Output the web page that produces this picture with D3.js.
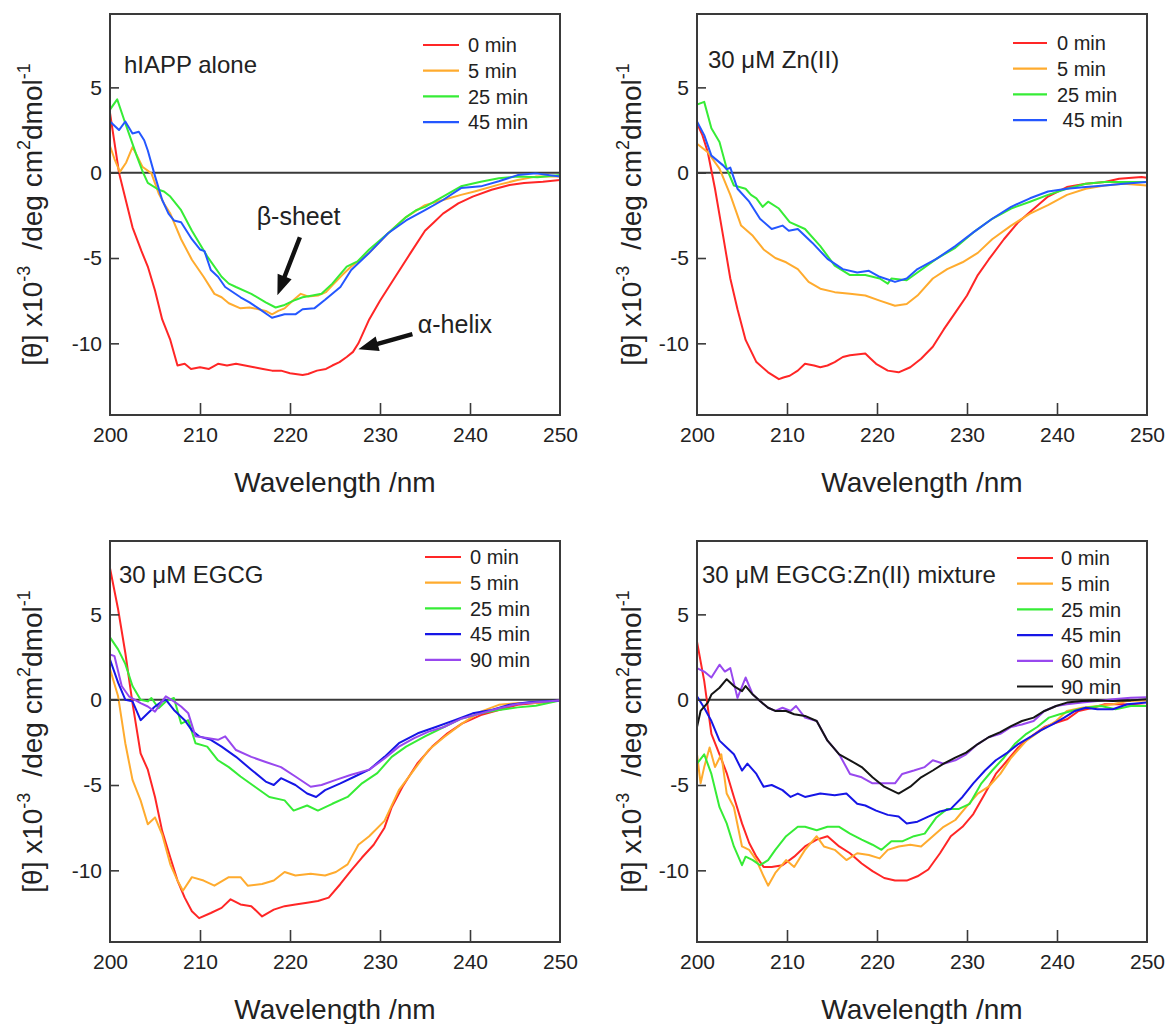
<!DOCTYPE html>
<html>
<head>
<meta charset="utf-8">
<script src="https://cdn.jsdelivr.net/npm/d3@7"></script>
<style>
  html, body { margin: 0; padding: 0; background: #fff; }
  svg { display: block; }
  text { font-family: Arial, "Liberation Sans", sans-serif; fill: #222; }
</style>
</head>
<body>
<svg id="chart" width="1167" height="1024"></svg>
<script>
// ---------- DATA ----------
const xTicks = [200, 210, 220, 230, 240, 250];
const yTicks = [5, 0, -5, -10];
const xDomain = [200, 250];
const yDomain = [-14.2, 9.3];

const panelTitles = ["hIAPP alone", "30 \u03bcM Zn(II)", "30 \u03bcM EGCG", "30 \u03bcM EGCG:Zn(II) mixture"];
const legend1 = ["0 min", "5 min", "25 min", "45 min"];
const legend2 = ["0 min", "5 min", "25 min", " 45 min"];
const legend3 = ["0 min", "5 min", "25 min", "45 min", "90 min"];
const legend4 = ["0 min", "5 min", "25 min", "45 min", "60 min", "90 min"];

// Panel 1: hIAPP alone
const p1_0 = [[200,3.5],[201,0],[202.5,-3.2],[203.5,-4.6],[204.2,-5.5],[205,-6.9],[205.8,-8.6],[206.7,-9.8],[207.5,-11.3],[208.3,-11.2],[209,-11.5],[210,-11.4],[211,-11.5],[212,-11.2],[213,-11.3],[214,-11.2],[215,-11.3],[216,-11.4],[217,-11.5],[218,-11.6],[219,-11.6],[220,-11.75],[221.4,-11.85],[222,-11.8],[223,-11.6],[224,-11.5],[224.7,-11.3],[225.5,-11.1],[226.3,-10.8],[227,-10.5],[227.6,-10.0],[228.8,-8.6],[230,-7.5],[231.7,-6.1],[233.4,-4.7],[235,-3.4],[236,-2.9],[237,-2.4],[238.7,-1.8],[240.3,-1.4],[242.4,-1.0],[244.4,-0.72],[246,-0.6],[248.1,-0.53],[250,-0.43]];
const p1_5 = [[200,1.56],[200.5,0.8],[201.1,0.05],[201.8,0.6],[202.5,1.5],[203,1.0],[203.6,0.35],[204.6,-0.04],[205.4,-1.2],[206.1,-1.9],[206.7,-2.4],[207.9,-3.9],[209.1,-5.1],[210.4,-6.1],[211.6,-7.1],[212.4,-7.3],[213.2,-7.65],[214.5,-7.95],[215.5,-7.9],[216.5,-8.0],[217.3,-8.1],[218,-8.3],[218.7,-8.1],[219.4,-7.95],[220.3,-7.5],[221.2,-7.1],[222,-7.25],[223.1,-7.2],[224,-7.0],[224.7,-6.6],[225.8,-6.0],[226.8,-5.5],[228.8,-4.7],[230.9,-3.55],[232.9,-2.6],[235,-1.9],[237,-1.6],[239,-1.3],[240.5,-1.1],[241.2,-1.0],[243.2,-0.7],[245.3,-0.43],[247.3,-0.23],[250,-0.23]];
const p1_25 = [[200,3.7],[200.8,4.3],[201.7,2.9],[202.3,2.0],[203,0.94],[203.6,0.1],[204.2,-0.6],[205.4,-1.0],[206,-1.1],[206.7,-1.4],[207.9,-2.2],[209.1,-3.4],[210.8,-4.9],[212.4,-6.1],[213.2,-6.5],[214,-6.7],[215.7,-7.1],[217.3,-7.6],[218.4,-7.9],[219.4,-7.75],[220.4,-7.5],[221.4,-7.3],[222.5,-7.2],[223.5,-7.1],[224.7,-6.5],[225.5,-6.0],[226.3,-5.5],[227.5,-5.2],[228.8,-4.5],[230.9,-3.55],[232.9,-2.6],[234,-2.2],[235,-2.0],[237,-1.4],[239,-0.8],[241.2,-0.53],[243.2,-0.33],[245.3,-0.23],[247.5,-0.27],[250,-0.14]];
const p1_45 = [[200,3.0],[201,2.5],[201.7,3.0],[202.5,2.3],[203.2,2.4],[203.8,1.9],[204.2,1.3],[205,-0.2],[205.8,-1.6],[206.5,-2.4],[207.1,-2.8],[207.9,-2.9],[209.1,-3.9],[210,-4.5],[210.5,-4.6],[211.2,-5.7],[212,-6.1],[212.8,-6.7],[214.5,-7.3],[215.5,-7.6],[216.5,-7.95],[218,-8.5],[219.4,-8.3],[220.6,-8.3],[221.4,-8.0],[222.7,-7.95],[223.9,-7.45],[225.6,-6.7],[226.8,-5.7],[228.8,-4.7],[230.9,-3.55],[232.9,-2.8],[235,-2.2],[237,-1.6],[239,-0.9],[241.2,-0.8],[243.2,-0.5],[245.3,-0.14],[247.3,-0.04],[250,-0.23]];

// Panel 2: 30 uM Zn(II)
const p2_0 = [[200,2.9],[200.6,2.2],[201.2,1.2],[202,-0.94],[202.9,-3.7],[203.7,-6.2],[204.5,-8.0],[205.4,-9.8],[206.6,-11.1],[207.9,-11.7],[209.1,-12.1],[209.6,-12.0],[210.3,-11.9],[211.2,-11.6],[212,-11.2],[213,-11.3],[213.7,-11.4],[214.5,-11.3],[215.3,-11.1],[216.2,-10.8],[217,-10.7],[218.7,-10.6],[219.3,-10.9],[219.9,-11.2],[221.2,-11.6],[222.4,-11.7],[223.7,-11.4],[224.9,-10.9],[226.2,-10.2],[227.4,-9.2],[228.7,-8.2],[230,-7.2],[231.2,-6.0],[232.4,-5.1],[234.1,-3.9],[235.7,-2.9],[237,-2.3],[239,-1.4],[241.1,-0.84],[243.2,-0.65],[245.3,-0.55],[246.9,-0.35],[249.4,-0.25],[250,-0.3]];
const p2_5 = [[200,1.7],[201.2,1.2],[202.5,0.24],[203.7,-1.3],[204.9,-3.1],[206.2,-3.7],[207.4,-4.5],[208.7,-5.0],[209.9,-5.25],[211.2,-5.65],[212.4,-6.4],[213.7,-6.8],[215.3,-7.0],[217,-7.1],[218.7,-7.2],[220.3,-7.5],[222,-7.8],[223.3,-7.7],[224.5,-7.2],[226.2,-6.2],[227.8,-5.65],[229.5,-5.25],[231.2,-4.7],[232.8,-3.9],[234.9,-3.1],[237,-2.4],[239,-1.9],[241.1,-1.3],[243.2,-0.94],[245.3,-0.75],[247.4,-0.65],[250,-0.75]];
const p2_25 = [[200,4.0],[200.8,4.15],[201.6,2.6],[202.5,1.8],[203.3,0.24],[204.1,-0.75],[205.4,-0.94],[206,-1.3],[206.6,-1.5],[207.3,-2.0],[207.9,-1.7],[209.1,-2.1],[210.3,-2.9],[212,-3.3],[213.7,-4.3],[215.3,-5.45],[217,-6.0],[218.7,-6.0],[220.3,-6.2],[221.2,-6.5],[221.6,-6.2],[223.3,-6.3],[224.5,-5.85],[226.6,-5.05],[228.7,-4.4],[230.7,-3.5],[232.8,-2.7],[234.9,-2.1],[237,-1.7],[239,-1.3],[241.1,-0.94],[243.2,-0.65],[245.3,-0.55],[247.4,-0.55],[250,-0.55]];
const p2_45 = [[200,3.0],[200.8,2.2],[201.6,1.0],[202.9,0.43],[203.3,0.2],[203.7,0.3],[204.5,-0.94],[205.8,-1.7],[207,-2.7],[208.3,-3.3],[209.5,-3.1],[210.2,-3.4],[211.2,-3.3],[212.8,-4.1],[214.5,-5.05],[216.2,-5.65],[217.8,-5.85],[219.1,-5.75],[220.3,-6.1],[222,-6.4],[223.3,-6.2],[224.5,-5.65],[226.6,-5.05],[228.7,-4.3],[230.7,-3.5],[232.8,-2.7],[234.9,-2.0],[237,-1.5],[239,-1.1],[241.1,-0.94],[243.2,-0.84],[245.3,-0.75],[247.4,-0.65],[250,-0.55]];

// Panel 3: 30 uM EGCG
const p3_0 = [[200,7.7],[200.9,5.3],[201.7,2.75],[202.5,-0.2],[203.4,-3.15],[204.2,-4.1],[205,-5.7],[205.8,-7.7],[206.7,-9.25],[207.5,-10.6],[208.3,-11.6],[209.1,-12.4],[209.9,-12.8],[211.2,-12.5],[212.4,-12.2],[213.4,-11.7],[214.5,-12.0],[215.7,-12.1],[216.9,-12.7],[218.2,-12.3],[219.4,-12.1],[220.6,-12.0],[221.9,-11.9],[223.1,-11.8],[224.3,-11.6],[225.6,-10.8],[226.8,-10.0],[228,-9.25],[229.3,-8.5],[230.5,-7.5],[231.3,-6.3],[232.5,-5.1],[234.2,-3.7],[235.8,-2.75],[237.5,-1.97],[239.1,-1.4],[241.2,-0.9],[243.2,-0.6],[245.3,-0.3],[247.3,-0.2],[250,-0.04]];
const p3_5 = [[200,1.8],[200.9,0.2],[201.7,-2.55],[202.5,-4.7],[203.4,-5.9],[204.2,-7.3],[205,-6.9],[205.8,-7.9],[206.7,-9.65],[207.5,-10.6],[208.1,-11.2],[209.1,-10.4],[210.4,-10.6],[211.6,-10.9],[213.2,-10.4],[214.5,-10.4],[215.3,-10.9],[216.9,-10.8],[218.2,-10.6],[219.4,-10.1],[220.6,-10.3],[222.3,-10.2],[223.9,-10.3],[225.1,-10.1],[226.4,-9.65],[227.6,-8.5],[228.8,-8.0],[230.5,-7.1],[232.1,-5.3],[233.8,-4.1],[235.4,-2.95],[237.1,-2.2],[239.1,-1.4],[241.2,-0.7],[243.2,-0.3],[245.3,-0.2],[247.3,-0.2],[250,-0.04]];
const p3_25 = [[200,3.65],[200.9,2.95],[201.7,2.1],[202.5,0.8],[203.4,0],[204.2,-0.1],[204.6,0.1],[205.4,-0.5],[206.2,-0.1],[207.1,0.1],[207.9,-1.4],[208.7,-1.2],[209.5,-2.55],[210.8,-2.75],[212,-3.55],[213.2,-3.95],[214.5,-4.5],[216.1,-5.1],[217.7,-5.7],[219.4,-5.9],[220.4,-6.5],[221.9,-6.2],[223.1,-6.5],[224.7,-6.1],[226.4,-5.7],[228,-4.9],[229.7,-4.3],[231.3,-3.35],[232.9,-2.75],[235,-2.15],[237.1,-1.6],[239.1,-1.1],[241.2,-0.8],[243.2,-0.6],[245.3,-0.45],[247.3,-0.35],[250,-0.04]];
const p3_45 = [[200,2.35],[200.9,1.0],[201.7,0],[202.5,-0.1],[203.4,-1.2],[204.2,-0.8],[205,-0.4],[205.8,-0.1],[206.2,0],[207.1,-0.6],[208.3,-1.2],[209.1,-1.8],[209.9,-2.15],[211.2,-2.35],[212.4,-2.75],[214,-3.35],[215.7,-4.1],[217.3,-4.8],[218.2,-5.0],[219,-4.6],[220.6,-5.0],[221.9,-5.5],[222.9,-5.7],[223.9,-5.3],[225.6,-4.9],[227.2,-4.5],[228.8,-4.1],[230.5,-3.35],[232.1,-2.55],[234.2,-1.97],[236.2,-1.6],[238.3,-1.2],[240.3,-0.8],[242.4,-0.6],[244.4,-0.3],[246.5,-0.15],[250,-0.04]];
const p3_90 = [[200,2.65],[200.5,2.55],[201.3,0.8],[202.1,0.2],[203.4,-0.2],[204.2,-0.4],[205,-0.7],[205.8,-0.1],[206.2,0.2],[207.1,-0.1],[207.9,-0.4],[208.7,-0.8],[209.5,-2.15],[210.8,-2.25],[212,-2.35],[212.8,-2.15],[214,-2.95],[215.7,-3.35],[217.3,-3.65],[219,-3.95],[220.6,-4.5],[222.3,-5.1],[223.5,-5.0],[225.1,-4.7],[226.8,-4.4],[228.8,-4.1],[230.5,-3.45],[232.1,-2.75],[233.8,-2.25],[235.4,-1.87],[237.1,-1.6],[239.1,-1.1],[241.2,-0.8],[243.2,-0.5],[245.3,-0.25],[247.3,-0.15],[250,-0.04]];

// Panel 4: 30 uM EGCG:Zn(II) mixture
const p4_0 = [[200,3.4],[200.8,1.1],[201.6,-2.0],[202.5,-3.2],[203.3,-4.3],[204.1,-5.7],[205,-7.25],[205.8,-8.4],[206.6,-9.2],[207.4,-9.8],[208.3,-9.8],[209.5,-9.7],[210.8,-9.2],[212,-8.6],[213.3,-8.2],[214.5,-8.0],[215.8,-8.6],[217,-9.0],[218.3,-9.6],[219.5,-10.05],[220.8,-10.45],[222,-10.6],[223.3,-10.6],[224.5,-10.35],[225.7,-9.95],[227,-9.0],[228.2,-8.0],[229.5,-7.45],[230.7,-6.7],[232,-5.5],[233.2,-4.35],[234.5,-3.55],[235.7,-2.8],[237,-2.2],[238.6,-1.6],[239.9,-1.35],[241.1,-1.15],[242.4,-0.66],[244,-0.47],[245.3,-0.27],[247.4,-0.27],[250,-0.37]];
const p4_5 = [[200,-3.2],[200.4,-4.9],[200.8,-3.95],[201.4,-2.8],[202,-3.95],[202.7,-3.2],[203.3,-5.5],[204.1,-6.3],[205,-8.6],[205.8,-8.8],[206.6,-9.4],[207.4,-10.35],[207.9,-10.9],[208.7,-10.15],[209.9,-9.4],[210.8,-9.8],[212,-8.8],[213.3,-8.0],[214.1,-8.6],[215.3,-8.8],[216.6,-9.4],[217.8,-9.0],[219.1,-9.1],[220.3,-9.3],[221.2,-8.8],[222.4,-8.6],[223.7,-8.5],[224.9,-8.6],[226.2,-8.0],[227.4,-7.45],[228.7,-7.05],[229.9,-6.3],[231.2,-5.5],[232.4,-5.1],[233.7,-4.35],[234.9,-3.4],[236.6,-2.4],[238.2,-1.8],[239.9,-1.25],[241.1,-0.66],[242.8,-0.47],[244.5,-0.37],[246.2,-0.27],[247.8,-0.08],[250,-0.04]];
const p4_25 = [[200,-3.75],[200.8,-3.2],[201.6,-4.35],[202.5,-6.3],[203.3,-7.25],[204.1,-8.6],[205,-9.7],[205.4,-9.2],[206.2,-9.4],[207,-9.7],[207.9,-9.4],[208.7,-8.8],[209.9,-8.0],[211.2,-7.45],[212,-7.45],[213.3,-7.65],[214.5,-7.45],[215.8,-7.45],[217,-7.85],[218.3,-8.2],[219.5,-8.5],[220.5,-8.8],[221.6,-8.3],[222.8,-8.3],[224.1,-8.0],[225.3,-7.85],[226.6,-6.9],[227.8,-6.4],[229.1,-6.4],[230.3,-6.1],[231.6,-4.9],[232.8,-4.15],[234.1,-3.4],[235.3,-2.6],[236.6,-2.0],[237.8,-1.6],[239.1,-1.05],[240.3,-0.85],[241.6,-0.66],[243.2,-0.47],[244.9,-0.37],[246.5,-0.56],[248.2,-0.37],[250,-0.37]];
const p4_45 = [[200,0.2],[200.8,-0.47],[201.6,-1.25],[202.5,-2.4],[203.3,-2.8],[204.1,-3.2],[205,-4.15],[205.6,-3.75],[206.6,-4.35],[207.4,-5.1],[208.3,-5.0],[209.5,-5.3],[210.4,-5.7],[211.2,-5.5],[212,-5.7],[213.7,-5.5],[215.3,-5.6],[216.6,-5.5],[217.8,-6.1],[218.7,-6.2],[219.9,-6.5],[221.2,-6.75],[222.4,-6.85],[223.3,-7.25],[224.5,-7.15],[225.7,-6.85],[227,-6.55],[228.2,-6.4],[229.5,-5.7],[230.7,-4.9],[232,-4.15],[233.2,-3.55],[234.5,-3.1],[235.7,-2.6],[237,-2.2],[238.2,-1.8],[239.5,-1.45],[240.8,-1.05],[242,-0.66],[243.2,-0.47],[244.5,-0.56],[246.2,-0.56],[247.8,-0.27],[250,-0.17]];
const p4_60 = [[200,1.85],[200.8,1.65],[201.6,1.3],[202.5,2.05],[203.1,1.65],[203.7,1.85],[204.5,0.1],[205.4,1.3],[206.2,0.3],[207,-0.08],[207.9,-0.47],[208.7,-0.66],[209.5,-0.47],[210.4,-0.66],[211,-0.37],[212,-1.05],[213.3,-1.25],[214.5,-2.4],[215.8,-3.2],[217,-4.35],[218.3,-4.55],[219.5,-4.9],[220.8,-4.9],[222,-4.9],[222.8,-4.35],[224.1,-4.15],[225.3,-3.95],[226.2,-3.55],[227.4,-3.75],[228.7,-3.55],[229.9,-3.2],[231.2,-2.6],[232.4,-2.2],[233.7,-2.0],[234.9,-1.6],[236.1,-1.45],[237.4,-1.25],[238.6,-0.66],[239.9,-0.37],[241.1,-0.27],[242.8,-0.17],[244.5,-0.08],[246.2,0.02],[248.2,0.12],[250,0.15]];
const p4_90 = [[200,-1.6],[200.4,-0.66],[201.2,-0.17],[201.6,0.3],[202.5,0.7],[203.3,1.2],[204.1,0.8],[205,0.5],[205.4,0.8],[206.2,0.3],[207,-0.08],[207.9,-0.47],[208.7,-0.66],[209.9,-0.66],[210.8,-0.85],[212,-0.95],[213.3,-1.25],[214.5,-2.4],[215.8,-3.2],[217,-3.55],[218.3,-3.95],[219.5,-4.55],[220.8,-5.1],[222.4,-5.5],[223.7,-5.1],[224.9,-4.55],[226.2,-4.15],[227.4,-3.75],[228.7,-3.4],[229.9,-3.1],[231.2,-2.6],[232.4,-2.2],[233.7,-1.9],[234.9,-1.55],[236.1,-1.25],[237.4,-1.05],[238.6,-0.66],[239.9,-0.37],[241.1,-0.17],[242.8,-0.08],[244.5,-0.04],[246.2,-0.08],[248.2,-0.04],[250,0.02]];

// ---------- LAYOUT ----------
const RED = "#ff2626", ORANGE = "#ffab2e", GREEN = "#36ec36", BLUE1 = "#2457ff", BLUE2 = "#1616e6", PURPLE = "#9848ee", BLACK = "#151515";

const panels = [
  { left: 110, top: 14, title: panelTitles[0], tx: 14, ty: 59, ylabX: 42,
    series: [p1_0, p1_5, p1_25, p1_45], labels: legend1, colors: [RED, ORANGE, GREEN, BLUE1],
    leg: { x0: 313, x1: 349, tx: 358, y0: 31 } },
  { left: 697, top: 14, title: panelTitles[1], tx: 11, ty: 54, ylabX: 641,
    series: [p2_0, p2_5, p2_25, p2_45], labels: legend2, colors: [RED, ORANGE, GREEN, BLUE1],
    leg: { x0: 316, x1: 350, tx: 360, y0: 29 } },
  { left: 110, top: 541, title: panelTitles[2], tx: 9, ty: 42, ylabX: 42,
    series: [p3_0, p3_5, p3_25, p3_45, p3_90], labels: legend3, colors: [RED, ORANGE, GREEN, BLUE2, PURPLE],
    leg: { x0: 315, x1: 351, tx: 360, y0: 16 } },
  { left: 697, top: 541, title: panelTitles[3], tx: 5, ty: 42, ylabX: 641,
    series: [p4_0, p4_5, p4_25, p4_45, p4_60, p4_90], labels: legend4, colors: [RED, ORANGE, GREEN, BLUE2, PURPLE, BLACK],
    leg: { x0: 320, x1: 356, tx: 364, y0: 17 } }
];

const W = 450, H = 401;
const svg = d3.select("#chart");

panels.forEach((p, pi) => {
  const g = svg.append("g").attr("transform", `translate(${p.left},${p.top})`);
  const x = d3.scaleLinear().domain(xDomain).range([0, W]);
  const y = d3.scaleLinear().domain(yDomain).range([H, 0]);

  const cid = "clip" + pi;
  g.append("clipPath").attr("id", cid).append("rect").attr("width", W).attr("height", H);

  // zero line
  g.append("line").attr("x1", 0).attr("x2", W).attr("y1", y(0)).attr("y2", y(0))
    .attr("stroke", "#3a3a3a").attr("stroke-width", 2);

  // series
  const line = d3.line().x(d => x(d[0])).y(d => y(d[1]));
  const sg = g.append("g").attr("clip-path", `url(#${cid})`);
  p.series.forEach((s, i) => {
    sg.append("path").datum(s).attr("d", line).attr("fill", "none")
      .attr("stroke", p.colors[i]).attr("stroke-width", 2).attr("stroke-linejoin", "round");
  });

  // axes (inward ticks)
  const xAxis = d3.axisBottom(x).tickValues(xTicks).tickSize(-12).tickPadding(12).tickFormat(d => String(d));
  const gx = g.append("g").attr("transform", `translate(0,${H})`).call(xAxis);
  const yAxis = d3.axisLeft(y).tickValues(yTicks).tickSize(-9).tickPadding(8).tickFormat(d => String(d));
  const gy = g.append("g").call(yAxis);
  [gx, gy].forEach(a => {
    a.select(".domain").remove();
    a.selectAll(".tick line").attr("stroke", "#3a3a3a").attr("stroke-width", 1.6);
    a.selectAll(".tick text").attr("font-size", 21).attr("fill", "#222")
      .style("font-family", 'Arial, "Liberation Sans", sans-serif');
  });
  gx.selectAll(".tick").filter(d => d === 200 || d === 250).select("line").remove();

  // frame
  g.append("rect").attr("width", W).attr("height", H).attr("fill", "none")
    .attr("stroke", "#3a3a3a").attr("stroke-width", 2);

  // title
  g.append("text").attr("x", p.tx).attr("y", p.ty).attr("font-size", 24).text(p.title);

  // legend
  p.labels.forEach((lab, i) => {
    const yy = p.leg.y0 + i * 25.7;
    g.append("line").attr("x1", p.leg.x0).attr("x2", p.leg.x1).attr("y1", yy).attr("y2", yy)
      .attr("stroke", p.colors[i]).attr("stroke-width", 2.2);
    g.append("text").attr("x", p.leg.tx).attr("y", yy).attr("dy", "0.36em")
      .attr("font-size", 20).style("white-space", "pre").text(lab);
  });

  // x label
  svg.append("text").attr("x", p.left + W / 2).attr("y", p.top + H + 77)
    .attr("text-anchor", "middle").attr("font-size", 28).text("Wavelength /nm");

  // y label
  const cy = p.top + H / 2;
  const yl = svg.append("text").attr("transform", `translate(${p.ylabX},${cy}) rotate(-90)`)
    .attr("text-anchor", "middle").attr("font-size", 28);
  yl.append("tspan").text("[\u03b8] x10");
  yl.append("tspan").attr("font-size", 18).attr("dy", -12).text("-3");
  yl.append("tspan").attr("dy", 12).attr("dx", 16).text("/deg cm");
  yl.append("tspan").attr("font-size", 18).attr("dy", -12).text("2");
  yl.append("tspan").attr("dy", 12).text("dmol");
  yl.append("tspan").attr("font-size", 18).attr("dy", -12).text("-1");

  // annotations (panel 1)
  if (pi === 0) {
    const arrow = (x0, y0, x1, y1) => {
      const X0 = x(x0), Y0 = y(y0), X1 = x(x1), Y1 = y(y1);
      const dx = X1 - X0, dy = Y1 - Y0, L = Math.hypot(dx, dy);
      const ux = dx / L, uy = dy / L, nx = -uy, ny = ux;
      const hl = 20, hw = 7.5, sw = 2.2;
      const bx = X1 - ux * hl, by = Y1 - uy * hl;
      const pts = [
        [X0 + nx * sw, Y0 + ny * sw], [bx + nx * sw, by + ny * sw], [bx + nx * hw, by + ny * hw],
        [X1, Y1], [bx - nx * hw, by - ny * hw], [bx - nx * sw, by - ny * sw], [X0 - nx * sw, Y0 - ny * sw]
      ];
      g.append("polygon").attr("points", pts.map(q => q.join(",")).join(" ")).attr("fill", "#111");
    };
    g.append("text").attr("x", x(216.3)).attr("y", y(-3.08)).attr("font-size", 25).text("\u03b2-sheet");
    arrow(221.1, -3.78, 218.6, -7.18);
    g.append("text").attr("x", x(234.2)).attr("y", y(-9.4)).attr("font-size", 25).text("\u03b1-helix");
    arrow(233.6, -9.46, 227.6, -10.34);
  }
});
</script>
</body>
</html>
